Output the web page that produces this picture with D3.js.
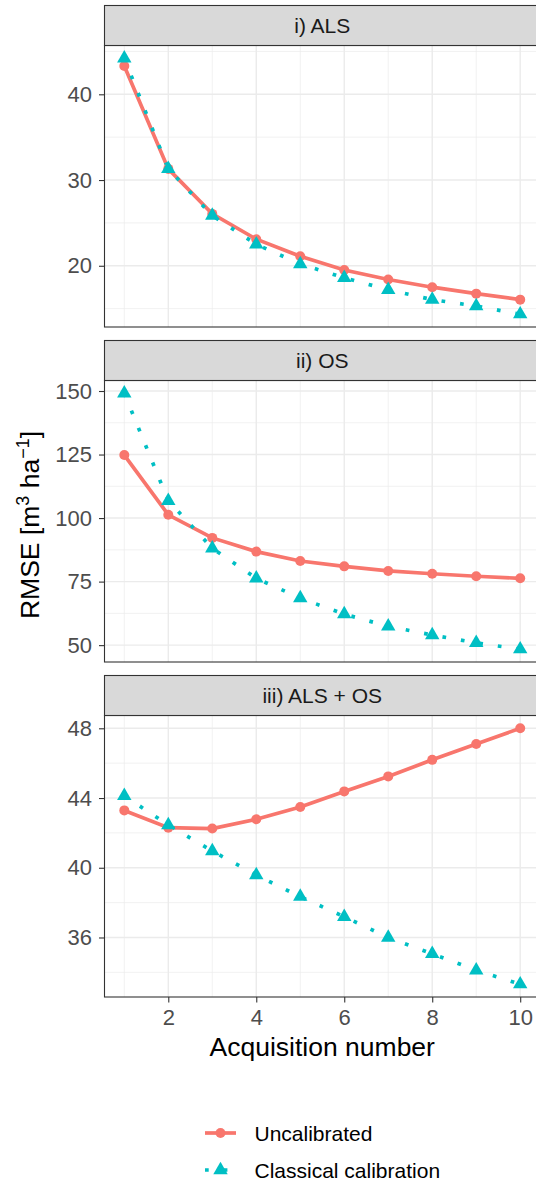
<!DOCTYPE html>
<html>
<head>
<meta charset="utf-8">
<script src="https://cdn.jsdelivr.net/npm/d3@7"></script>
<style>
  html, body { margin: 0; padding: 0; background: #fff; }
  svg { display: block; font-family: "Liberation Sans", Arial, sans-serif; }
</style>
</head>
<body>
<svg id="chart" width="536" height="1183"></svg>
<script>
// acquisition numbers on the x axis
var acquisitions = [1, 2, 3, 4, 5, 6, 7, 8, 9, 10];
var xTicks = [2, 4, 6, 8, 10];

// RMSE values
var alsUncalibrated = [43.3, 31.3, 26.05, 23.1, 21.1, 19.5, 18.4, 17.5, 16.75, 16.05];
var alsClassical    = [44.2, 31.3, 25.85, 22.5, 20.2, 18.6, 17.2, 16.05, 15.3, 14.35];
var osUncalibrated  = [124.8, 101.3, 92.2, 86.8, 83.1, 81.0, 79.2, 78.1, 77.1, 76.3];
var osClassical     = [149.1, 106.8, 88.1, 76.3, 68.5, 62.2, 57.4, 54.0, 50.9, 48.4];
var bothUncalibrated = [43.29, 42.3, 42.25, 42.78, 43.49, 44.38, 45.24, 46.19, 47.1, 48.0];
var bothClassical    = [44.13, 42.45, 40.96, 39.58, 38.34, 37.19, 36.0, 35.06, 34.12, 33.32];

var panelTitles = ['i) ALS', 'ii) OS', 'iii) ALS + OS'];
var yTicksALS = [20, 30, 40];
var yTicksOS = [50, 75, 100, 125, 150];
var yTicksBoth = [36, 40, 44, 48];
var seriesNames = ['Uncalibrated', 'Classical calibration'];

var panels = [
    {title: panelTitles[0], uncal: alsUncalibrated, cal: alsClassical, ticks: yTicksALS},
    {title: panelTitles[1], uncal: osUncalibrated, cal: osClassical, ticks: yTicksOS},
    {title: panelTitles[2], uncal: bothUncalibrated, cal: bothClassical, ticks: yTicksBoth}
];

var red = '#F8766D',
    teal = '#00BFC4',
    gridCol = '#EBEBEB',
    borderCol = '#333333',
    lineW = 3.7,
    dotted = '3.7,15',
    pointR = 5;

var left = 104.5, right = 540,
    stripTops = [5.5, 340.5, 675.5],
    stripH = 40,
    panelH = 281.5;

var svg = d3.select('#chart');

var x = d3.scaleLinear()
    .domain([0.55, 10.45])
    .range([left, right]);

var triangle = d3.symbol().type(d3.symbolTriangle).size(90);

panels.forEach(function(p, idx) {
    var top = stripTops[idx] + stripH,
        bottom = top + panelH;

    var all = p.uncal.concat(p.cal),
        lo = d3.min(all), hi = d3.max(all),
        pad = (hi - lo) * 0.05;

    var y = d3.scaleLinear()
        .domain([lo - pad, hi + pad])
        .range([bottom, top]);

    var g = svg.append('g');

    var clipId = 'clip' + idx;
    svg.append('clipPath').attr('id', clipId)
        .append('rect')
        .attr('x', left).attr('y', top)
        .attr('width', right - left).attr('height', panelH);

    // minor grid: halfway between major breaks
    var step = p.ticks[1] - p.ticks[0],
        minorY = [];
    for (var v = p.ticks[0] - step / 2; v <= hi + pad; v += step) {
        if (v >= lo - pad) minorY.push(v);
    }
    var minorX = [1, 3, 5, 7, 9];

    var grid = g.append('g').attr('clip-path', 'url(#' + clipId + ')');
    grid.selectAll('.minory').data(minorY).enter().append('line')
        .attr('x1', left).attr('x2', right)
        .attr('y1', function(d) { return y(d); })
        .attr('y2', function(d) { return y(d); })
        .attr('stroke', gridCol).attr('stroke-width', 0.7);
    grid.selectAll('.minorx').data(minorX).enter().append('line')
        .attr('y1', top).attr('y2', bottom)
        .attr('x1', function(d) { return x(d); })
        .attr('x2', function(d) { return x(d); })
        .attr('stroke', gridCol).attr('stroke-width', 0.7);
    grid.selectAll('.majory').data(p.ticks).enter().append('line')
        .attr('x1', left).attr('x2', right)
        .attr('y1', function(d) { return y(d); })
        .attr('y2', function(d) { return y(d); })
        .attr('stroke', gridCol).attr('stroke-width', 1.4);
    grid.selectAll('.majorx').data(xTicks).enter().append('line')
        .attr('y1', top).attr('y2', bottom)
        .attr('x1', function(d) { return x(d); })
        .attr('x2', function(d) { return x(d); })
        .attr('stroke', gridCol).attr('stroke-width', 1.4);

    var line = d3.line()
        .x(function(d, i) { return x(acquisitions[i]); })
        .y(function(d) { return y(d); });

    var marks = g.append('g').attr('clip-path', 'url(#' + clipId + ')');
    marks.append('path')
        .attr('d', line(p.uncal))
        .attr('fill', 'none').attr('stroke', red)
        .attr('stroke-width', lineW);
    marks.append('path')
        .attr('d', line(p.cal))
        .attr('fill', 'none').attr('stroke', teal)
        .attr('stroke-width', lineW)
        .attr('stroke-dasharray', dotted);

    marks.selectAll('.pt').data(p.uncal).enter().append('circle')
        .attr('cx', function(d, i) { return x(acquisitions[i]); })
        .attr('cy', function(d) { return y(d); })
        .attr('r', pointR)
        .attr('fill', red);
    marks.selectAll('.tri').data(p.cal).enter().append('path')
        .attr('d', triangle)
        .attr('transform', function(d, i) {
            return 'translate(' + x(acquisitions[i]) + ',' + y(d) + ')';
        })
        .attr('fill', teal);

    // y axis
    var yAxis = g.append('g')
        .attr('transform', 'translate(' + left + ',0)')
        .call(d3.axisLeft(y).tickValues(p.ticks).tickSize(5.5).tickPadding(7));
    yAxis.select('.domain').remove();
    yAxis.selectAll('line').attr('stroke', borderCol).attr('stroke-width', 1.1);
    yAxis.selectAll('text')
        .attr('fill', '#4D4D4D')
        .style('font-size', '22px')
        .style('font-family', '"Liberation Sans", Arial, sans-serif');

    // panel border
    g.append('rect')
        .attr('x', left).attr('y', top)
        .attr('width', right - left).attr('height', panelH)
        .attr('fill', 'none').attr('stroke', borderCol).attr('stroke-width', 1.1);

    // strip
    g.append('rect')
        .attr('x', left).attr('y', stripTops[idx])
        .attr('width', right - left).attr('height', stripH)
        .attr('fill', '#D9D9D9').attr('stroke', borderCol).attr('stroke-width', 1.1);
    g.append('text')
        .attr('x', (left + right) / 2)
        .attr('y', stripTops[idx] + stripH / 2)
        .attr('dy', '0.36em')
        .attr('text-anchor', 'middle')
        .attr('fill', '#1A1A1A')
        .style('font-size', '21px')
        .text(p.title);

    // x axis only under the last panel
    if (idx === panels.length - 1) {
        var xAxis = g.append('g')
            .attr('transform', 'translate(0,' + bottom + ')')
            .call(d3.axisBottom(x).tickValues(xTicks).tickSize(5.5).tickPadding(7));
        xAxis.select('.domain').remove();
        xAxis.selectAll('line').attr('stroke', borderCol).attr('stroke-width', 1.1);
        xAxis.selectAll('text')
            .attr('fill', '#4D4D4D')
            .style('font-size', '22px')
            .style('font-family', '"Liberation Sans", Arial, sans-serif');
    }
});

// axis titles
svg.append('text')
    .attr('x', (left + right) / 2)
    .attr('y', 1056)
    .attr('text-anchor', 'middle')
    .attr('fill', '#000')
    .style('font-size', '26.5px')
    .text('Acquisition number');

var yTitle = svg.append('text')
    .attr('transform', 'translate(39,525) rotate(-90)')
    .attr('text-anchor', 'middle')
    .attr('fill', '#000')
    .style('font-size', '26.5px');
yTitle.append('tspan').text('RMSE [m');
yTitle.append('tspan').attr('dy', -10).style('font-size', '18px').text('3');
yTitle.append('tspan').attr('dy', 10).text(' ha');
yTitle.append('tspan').attr('dy', -10).style('font-size', '18px').text('\u22121');
yTitle.append('tspan').attr('dy', 10).text(']');

// legend
var legendY = [1133, 1170],
    keyX0 = 205, keyX1 = 236, keyCx = 220.5;
var legend = svg.append('g');
seriesNames.forEach(function(name, i) {
    var ly = legendY[i];
    var l = legend.append('line')
        .attr('x1', keyX0).attr('x2', keyX1)
        .attr('y1', ly).attr('y2', ly)
        .attr('stroke', i === 0 ? red : teal)
        .attr('stroke-width', lineW);
    if (i === 0) {
        legend.append('circle').attr('cx', keyCx).attr('cy', ly).attr('r', pointR).attr('fill', red);
    } else {
        l.attr('stroke-dasharray', dotted);
        legend.append('path').attr('d', triangle)
            .attr('transform', 'translate(' + keyCx + ',' + ly + ')')
            .attr('fill', teal);
    }
    legend.append('text')
        .attr('x', 254.5).attr('y', ly)
        .attr('dy', '0.36em')
        .attr('fill', '#000')
        .style('font-size', '21px')
        .text(name);
});
</script>
</body>
</html>
